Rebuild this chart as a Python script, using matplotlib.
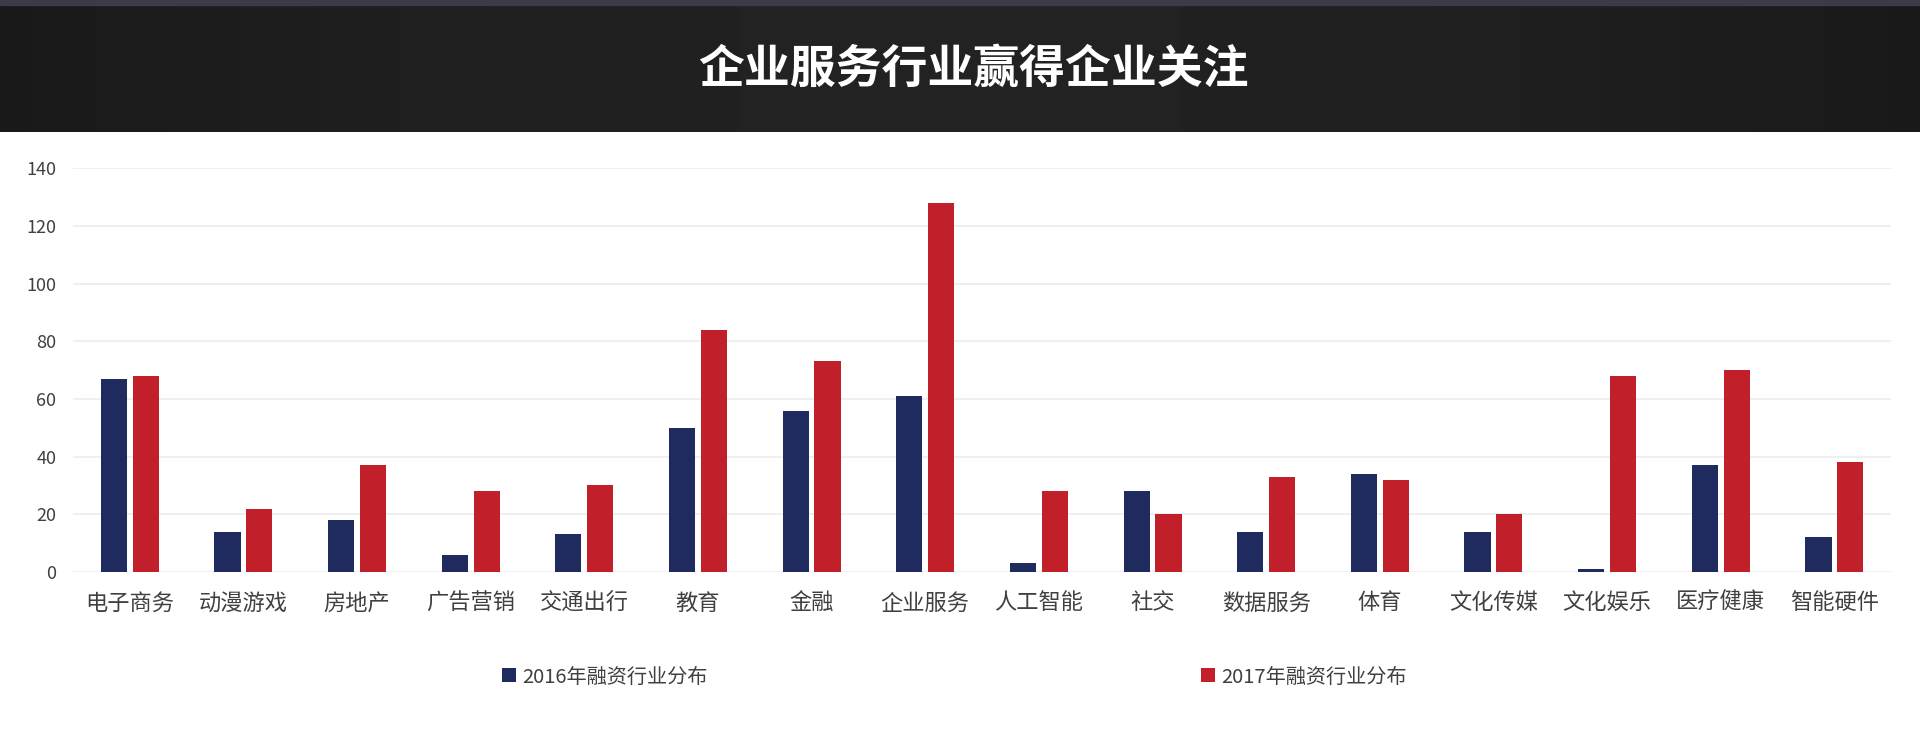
import numpy as np
import matplotlib
matplotlib.use("Agg")
import matplotlib.pyplot as plt
from matplotlib.patches import Patch

plt.rcParams['font.family'] = ['Noto Sans CJK SC', 'DejaVu Sans']

# data
categories = ["电子商务", "动漫游戏", "房地产", "广告营销", "交通出行", "教育", "金融", "企业服务",
              "人工智能", "社交", "数据服务", "体育", "文化传媒", "文化娱乐", "医疗健康", "智能硬件"]
values_2016 = [67, 14, 18, 6, 13, 50, 56, 61, 3, 28, 14, 34, 14, 1, 37, 12]
values_2017 = [68, 22, 37, 28, 30, 84, 73, 128, 28, 20, 33, 32, 20, 68, 70, 38]
series_names = ["2016年融资行业分布", "2017年融资行业分布"]
title = "企业服务行业赢得企业关注"
yticks = [0, 20, 40, 60, 80, 100, 120, 140]

blue = "#1f2a5e"
red = "#c11f2a"

fig = plt.figure(figsize=(19.2, 7.35), dpi=100)
fig.patch.set_facecolor("white")

# dark header band
hdr = fig.add_axes([0, 0.82, 1, 0.18])
grad = np.linspace(0, 1, 200)
shade = np.outer(np.ones(20), 0.10 + 0.035 * np.sin(grad * np.pi))
hdr.imshow(shade, cmap="gray", vmin=0, vmax=1, aspect="auto", extent=[0, 1, 0, 1])
hdr.axhspan(0.965, 1.0, color="#3c3b47")
hdr.set_xlim(0, 1)
hdr.set_ylim(0, 1)
hdr.axis("off")
fig.text(0.507, 0.905, title, color="white", fontsize=33, fontweight="bold",
         ha="center", va="center")

ax = fig.add_axes([0.038, 0.2218, 0.947, 0.5492])
x = np.arange(len(categories))
w = 0.23
ax.bar(x - 0.14, values_2016, width=w, color=blue, zorder=3)
ax.bar(x + 0.14, values_2017, width=w, color=red, zorder=3)

ax.set_xlim(-0.5, len(categories) - 0.5)
ax.set_ylim(0, 140)
ax.set_yticks(yticks)
ax.set_xticks(x)
ax.set_xticklabels(categories, fontsize=16, color="#404040")
ax.tick_params(axis="x", length=0, pad=14)
ax.tick_params(axis="y", length=0, pad=12, labelsize=13, labelcolor="#404040")
ax.grid(axis="y", color="#ececec", linewidth=1.2, zorder=0)
for s in ax.spines.values():
    s.set_visible(False)

handles = [Patch(facecolor=blue), Patch(facecolor=red)]
fig.legend(handles, series_names, loc="center", bbox_to_anchor=(0.497, 0.079), ncol=2,
           frameon=False, fontsize=14.5, handlelength=0.7, handleheight=0.7,
           handletextpad=0.3, columnspacing=24.5, labelcolor="#404040")

fig.savefig("out.png", dpi=100)
